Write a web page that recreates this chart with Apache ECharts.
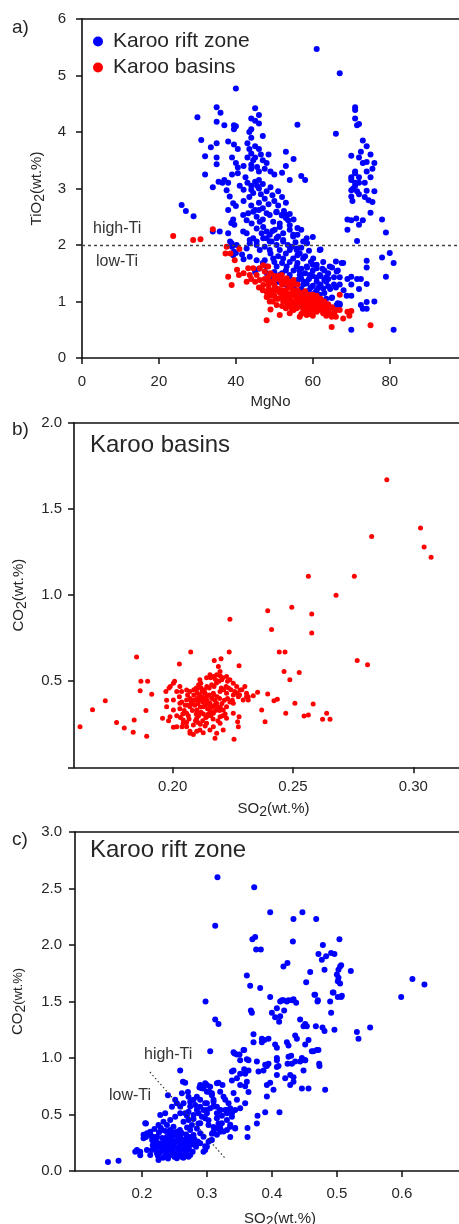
<!DOCTYPE html>
<html><head><meta charset="utf-8">
<script src="https://cdn.jsdelivr.net/npm/echarts@6/dist/echarts.min.js"></script>
<style>html,body{margin:0;padding:0;background:#fff}#c{width:459px;height:1224px}</style>
</head><body><div id="c"></div>
<script>
// ---------- tick labels ----------
const aXTicks = [0, 20, 40, 60, 80];
const aYTicks = [0, 1, 2, 3, 4, 5, 6];
const bXTicks = [0.20, 0.25, 0.30];
const bYTicks = [0, 0.5, 1.0, 1.5, 2.0];
const bYLabels = [0.5, 1.0, 1.5, 2.0];
const cXTicks = [0.2, 0.3, 0.4, 0.5, 0.6];
const cYTicks = [0, 0.5, 1.0, 1.5, 2.0, 2.5, 3.0];
const seriesNames = ['Karoo rift zone', 'Karoo basins'];
const tiThreshold = 2;              // high-Ti / low-Ti boundary in panel a
const tiDividerC = [[0.2123, 0.876], [0.329, 0.106]]; // divider in panel c

// ---------- panel a: MgNo vs TiO2 ----------
const riftA = [
[61,5.47],[67,5.04],[40,4.77],
[35,4.44],[36,4.34],[30,4.26],[35,4.18],[37,4.12],[39.5,4.12],[40,4.1],[39.5,4.05],[45,4.42],[46,4.3],[44,4.24],[45,4.2],[46,4.15],[43.5,4.0],[44,4.05],[44,3.9],[47,3.93],[56,4.13],[66,3.97],
[31,3.86],[33.5,3.73],[35,3.8],[38,3.83],[39.5,3.78],[40.5,3.7],[32,3.57],[35,3.55],[35,3.43],[39,3.55],[40,3.45],[40.5,3.37],[32,3.25],[34,3.02],[35.5,3.12],[37,3.15],[39,3.25],[40.5,3.27],
[43,3.8],[43.5,3.7],[44,3.62],[44.5,3.5],[44,3.42],[45,3.55],[46,3.7],[46.5,3.6],[47,3.5],[45.5,3.38],[46,3.3],[47.5,3.35],[48,3.45],[45,3.75],[43,3.55],[42,3.4],[44,3.35],[48.5,3.6],[49,3.3],
[53,3.65],[55,3.52],[53,3.4],[50,3.25],[52,3.28],[54,3.15],[57,3.22],[58,3.15],
[43,3.1],[44,3.05],[45,3.12],[46,3.0],[47,3.08],[48,2.95],[44.5,2.92],[46.5,2.9],[49,3.02],[42,2.98],[43.5,2.85],[47.5,2.82],[49.5,2.88],[50,2.78],[51,2.95],[52,2.85],[51,2.7],[53,2.75],[52.5,2.6],[54,2.55],[55,2.45],[54,2.35],[56,2.3],[53,2.48],[52,2.52],[50.5,2.58],
[45.5,3.05],[44,2.98],[46,3.15],[42.5,3.2],[41,3.05],[48.5,2.72],[46,2.75],[44,2.7],[45,2.62],[47,2.65],[42,2.78],
[25.9,2.71],[27,2.6],[29,2.51],[34,2.24],[36.5,3.1],[38,3.1],[37.6,2.97],[38.4,2.86],[39.3,2.74],[40,2.69],[38,2.62],[39.3,2.45],[38.8,2.39],[39.6,2.36],[35.8,2.24],[38,2.21],[38.5,2.06],[39,1.97],[39.5,1.88],[40,1.86],[41.6,1.83],[42,1.75],
[41.9,2.53],[43.2,2.56],[44.5,2.59],[42.8,2.44],[44.1,2.38],[45.4,2.5],[46.2,2.41],[48,2.56],[48.8,2.53],[50.6,2.59],[51.9,2.53],[49.7,2.41],[51.4,2.38],[53.2,2.53],[53.6,2.44],[45.4,2.29],[47.1,2.32],[48,2.24],[46.7,2.21],[48.8,2.18],[50.1,2.27],[51.4,2.32],[52.3,2.21],[54,2.27],[54.9,2.18],[48,2.12],[49.3,2.06],[44.5,2.12],[42.8,2.21],[41.9,2.24],[43.6,2.03],[45.4,2.0],[47.5,1.97],[50.6,2.0],[52.3,2.06],[54.5,1.97],[55.8,1.91],[56.6,1.85],
[38.9,2.03],[40.2,2.0],[39.3,1.82],[42.8,1.94],[43.6,2.09],[45.4,2.06],[47.1,2.12],[48.8,2.06],[50.6,2.12],[52.3,2.09],[54.9,2.15],[58.4,2.12],[61.8,1.91],[46.2,1.91],[48.8,1.91],[51.4,1.91],[54,1.91],[55.8,1.94],[43.6,1.79],[45.4,1.73],[47.5,1.73],[49.7,1.76],[52.3,1.76],[54.9,1.76],[57.5,1.76],[60.1,1.76],[62.7,1.7],[64.4,1.62],[66.2,1.53],[67.9,1.68],[48,1.62],[50.6,1.62],[53.2,1.62],[55.8,1.62],[58.4,1.62],[61,1.59],[51.4,1.47],[54,1.47],[56.6,1.47],[59.2,1.47],[61.8,1.47],[55.8,1.32],[58.4,1.32],[61,1.35],[63.5,1.35],[53.2,1.29],[62.7,1.23],[64.9,1.06],[66.2,0.94],[67,0.96],[68.8,1.1],[69.6,0.82],[60.1,1.09],[61.8,1.12],[62.7,1.0],
[49,1.85],[50,1.7],[51,1.8],[52,1.68],[53,1.85],[54,1.7],[55,1.55],[56,1.68],[57,1.58],[58,1.5],[59,1.4],[60,1.55],[57,1.4],[56,1.38],[55,1.25],[57,1.22],[59,1.2],[60,1.28],[58,1.1],[61,1.42],[62,1.3],[63,1.15],[64,1.4],[63,1.55],[60,1.65],[58,1.8],[56,1.82],[53,1.55],[52,1.5],[50,1.52],[48,1.5],[47,1.68],[46,1.58],[45,1.52],[49,1.4],[51,1.35],[54,1.4],[56.5,1.55],[59.5,1.7],[61.5,1.25],[62.5,1.58],[60.5,1.15],[57.5,1.3],[53.5,2.0],[55.5,2.05],[57,1.95],[59,1.9],[51,2.15],[49.5,2.25],[47,2.45],[46,2.62],
[58,1.35],[59.5,1.25],[61,1.2],[62,1.45],[63,1.38],[60,1.45],[57,1.48],[58.5,1.6],[61,1.65],[64.5,1.22],[65.5,1.3],[63.5,1.05],[66,1.25],[67,1.3],[68,1.2],
[71,4.44],[71,4.39],[71,4.24],[71.5,4.12],[72,4.14],[70,3.58],[72,3.55],[72.5,3.65],[73,3.45],[74,3.47],[74,3.3],[71,3.3],[71,3.27],[70,3.2],[70,3.15],[71,3.1],[72,3.2],[75,3.2],[70.5,3.0],[71.5,2.95],[70,2.97],[71,3.05],[72,3.1],[73.5,2.85],[74.5,2.79],[75.5,2.76],[70,2.86],[70.3,2.78],[74,2.96],[72,2.9],[75,2.57],[71.3,2.47],[69,2.45],[70,2.44],[73,2.44],[72,2.36],[69,2.27],[71.5,2.07],[78,2.45],[79,2.22],[80,1.86],[78,1.78],[81,1.68],[79,1.44],[81,0.5],[74,1.72],[74,1.6],[74,1.31],[74,0.99],[73,0.87],[74,0.87],[76,1.0],[72.5,0.94],[70,1.44],[69,1.4],[70,1.3],[70,1.1],[72.5,1.4],[71.5,1.4],[72,1.22],[70,0.5],[67.5,1.68],[66,1.71],[66.5,1.55],[65,1.6],[65.5,1.43],[67,1.43],[64,1.5],[63.5,1.43],[64,1.27],[65,1.07],[66.5,0.97],[67,0.94],[62,1.92],[60,2.14],[57.5,2.06],[58.5,2.03],[57,2.27],[56,2.18],
[73,3.85],[74,3.75],[75,3.6],[76,3.45],[75.5,3.35],[73.5,3.1],[76,2.95]
];
const basinsA = [
[23.7,2.16],[28.9,2.09],[30.8,2.1],[34,2.28],[37.6,1.97],[37.3,1.85],[38.6,1.85],[40.9,1.93],[39.7,1.73],[38,1.44],[38.9,1.29],[40.3,1.56],[40.8,1.47],[43.2,1.59],[43.6,1.47],[42.8,1.35],[44.5,1.59],[46.2,1.59],[47.1,1.64],[48.4,1.62],[47.5,1.53],[45.4,1.47],[46.2,1.38],[47.1,1.29],[48.4,1.44],[49.3,1.35],[50.1,1.26],[50.6,1.41],[51.9,1.47],[53.2,1.41],[54,1.35],
[48,1.17],[49.7,1.12],[51.4,1.17],[53.2,1.12],[54.9,1.17],[55.8,1.06],[57.5,1.08],[59.2,1.03],[61,1.0],[62.7,0.94],[64.4,0.88],[48.8,1.0],[50.6,0.94],[52.3,1.0],[54,0.94],[55.8,0.88],[57.5,0.91],[59.2,0.85],[61,0.82],[62.7,0.79],[64.9,0.73],[65.7,0.82],[67,0.85],[67.9,0.7],[51.4,0.76],[54,0.79],[56.6,0.73],[58.4,0.76],[48,0.67],[64.9,0.55],[67,1.12],[69,0.82],[70,0.83],[69.5,0.75],[75,0.58],[49,0.86],[63.5,0.75],[66,0.73],
[50,1.3],[51,1.22],[52,1.3],[53,1.2],[54,1.25],[55,1.3],[56,1.2],[57,1.15],[58,1.05],[59,1.12],[60,1.05],[61,0.95],[62,0.9],[63,0.85],[60,0.92],[58,0.95],[57,1.0],[56,1.02],[55,1.1],[54,1.05],[53,1.0],[52,1.08],[51,1.05],[50,1.1],[49,1.2],[48.5,1.3],[47.5,1.4],[49,1.5],[50,1.45],[51.5,1.38],[52.5,1.18],[53.5,1.08],[54.5,1.15],[55.5,0.98],[56.5,0.95],[57.5,0.85],[58.5,0.88],[59.5,0.95],[60.5,0.88],[61.5,0.85],[62.5,0.85],[63.5,0.9],[64,0.82],[65,0.78],[66,0.85],[59,0.78],[60,0.75],[55,0.85],[53,0.88],[52,0.92],[50.5,1.05],[49.5,1.0],[48,1.08],[46,1.25],[45,1.35],[44,1.4],[42,1.5],[47,1.2],[56,1.12],[58,1.18],[60,1.12],[61,1.1],[62,1.05],[57,0.78],[54.5,0.88],[53.5,1.3],[55,1.38],[56,1.3],
[51.5,1.15],[52.5,1.05],[53.5,0.95],[54.5,1.0],[55.5,1.18],[56.5,1.08],[57.5,0.98],[58.5,1.0],[59.5,1.05],[60.5,1.0],[61.5,0.92],[62.5,0.95],[63.5,0.8],[60,0.85],[58,0.82],[56,0.9],[54,1.12],[52,1.2],[50,1.18],[49,1.1],[48.5,1.22],[51,1.45],[52,1.38],[53,1.32],[54,1.28],[55,1.2],[56,1.15],[57,1.08],[58,1.12],[59,0.98],[61,1.05],[62,0.98],[63,1.0],[64,0.95],[65,0.9],[57,0.92],[55,0.95],[53,1.15],[50,1.38],[48,1.38]
];

// ---------- panel b: Karoo basins SO2 vs CO2 ----------
const basinsB = [
[0.289,1.67],[0.303,1.39],[0.3045,1.28],[0.3074,1.22],[0.2827,1.34],[0.2564,1.11],[0.2755,1.11],[0.2679,1.0],[0.2395,0.91],[0.2495,0.93],[0.2578,0.89],[0.2238,0.86],[0.2411,0.80],[0.2578,0.78],[0.2443,0.67],[0.2467,0.67],[0.2075,0.67],[0.2235,0.67],[0.185,0.64],[0.2767,0.62],[0.281,0.595],[0.2173,0.62],[0.2201,0.63],[0.2028,0.60],[0.2276,0.59],[0.2463,0.556],[0.2526,0.55],[0.2487,0.508],[0.1868,0.50],[0.1896,0.50],[0.1865,0.445],[0.1913,0.424],[0.172,0.387],[0.1667,0.335],[0.1615,0.236],[0.1767,0.26],[0.1799,0.228],[0.184,0.275],[0.1836,0.203],[0.1892,0.18],[0.1889,0.33],[0.1958,0.285],[0.1983,0.27],[0.2003,0.233],[0.2039,0.236],[0.2176,0.169],[0.2255,0.163],[0.2353,0.436],[0.2395,0.426],[0.237,0.333],[0.2384,0.265],[0.2421,0.387],[0.2435,0.395],[0.2508,0.372],[0.247,0.314],[0.2546,0.298],[0.2564,0.304],[0.2584,0.368],[0.2623,0.279],[0.2654,0.279],[0.264,0.314],[0.2276,0.294],[0.227,0.265],[0.2273,0.236],[0.2314,0.41],[0.2293,0.391],[0.2307,0.43],[0.2335,0.415],
[0.1972,0.44],[0.1975,0.39],[0.1985,0.46],[0.199,0.47],[0.2003,0.488],[0.2008,0.5],[0.203,0.469],[0.2017,0.44],[0.2037,0.44],[0.2058,0.449],[0.2072,0.44],[0.21,0.455],[0.2113,0.508],[0.2117,0.488],[0.2141,0.52],[0.2155,0.537],[0.2169,0.527],[0.2183,0.537],[0.2197,0.556],[0.219,0.585],[0.2204,0.508],[0.2224,0.527],[0.2238,0.508],[0.2252,0.488],[0.2266,0.469],[0.228,0.449],[0.23,0.469],[0.2307,0.41],[0.2314,0.391],[0.2273,0.41],[0.2252,0.42],
[0.2003,0.391],[0.203,0.372],[0.2058,0.391],[0.2086,0.391],[0.2113,0.40],[0.2141,0.41],[0.2169,0.43],[0.2197,0.44],[0.2224,0.43],[0.1975,0.352],[0.2003,0.333],[0.203,0.34],[0.2058,0.314],[0.2072,0.352],[0.21,0.333],[0.2127,0.352],[0.2155,0.372],[0.2183,0.372],[0.221,0.333],[0.2224,0.352],[0.2252,0.372],
[0.1989,0.294],[0.2017,0.30],[0.2044,0.275],[0.2065,0.30],[0.21,0.285],[0.2113,0.314],[0.2141,0.294],[0.2169,0.314],[0.2197,0.294],[0.2224,0.285],[0.2252,0.314],[0.2017,0.236],[0.2044,0.256],[0.2058,0.236],[0.2086,0.245],[0.2113,0.217],[0.2141,0.256],[0.2169,0.236],[0.2197,0.256],[0.221,0.217],[0.2072,0.198],[0.2086,0.19],[0.21,0.21],[0.2127,0.20],[0.2155,0.217],[0.2183,0.198],[0.2072,0.21],
[0.2065,0.36],[0.2078,0.38],[0.2092,0.36],[0.2105,0.37],[0.2115,0.35],[0.2125,0.38],[0.2135,0.36],[0.2145,0.34],[0.2155,0.33],[0.2165,0.35],[0.2175,0.39],[0.2185,0.41],[0.2195,0.40],[0.2205,0.37],[0.2215,0.39],[0.2082,0.33],[0.2098,0.31],[0.2108,0.30],[0.2118,0.32],[0.2128,0.31],[0.2138,0.29],[0.2148,0.31],[0.2158,0.30],[0.2168,0.28],[0.2178,0.33],[0.2088,0.42],[0.2102,0.43],[0.2112,0.42],[0.2122,0.44],[0.2132,0.45],[0.2142,0.47],[0.2152,0.46],[0.2162,0.48],[0.2172,0.47],[0.2182,0.49],[0.2192,0.50],[0.2202,0.46],[0.2212,0.45],[0.2222,0.47],[0.2232,0.46],[0.2242,0.45],[0.2095,0.27],[0.2105,0.26],[0.2115,0.25],[0.2125,0.27],[0.2135,0.24],[0.2068,0.28],[0.2058,0.26],[0.2048,0.33],[0.2038,0.38],[0.2028,0.41],[0.2188,0.27],[0.2198,0.35],[0.2208,0.30],[0.2218,0.31],[0.2228,0.40],[0.2238,0.38],[0.2248,0.39],[0.2258,0.44],[0.2268,0.43],[0.2278,0.42],[0.2288,0.45],[0.2172,0.42],[0.2162,0.40],[0.2152,0.42],[0.2142,0.39],[0.2132,0.40],[0.2122,0.41],[0.2112,0.39],[0.2102,0.40],[0.2092,0.39],[0.2082,0.37],[0.2072,0.40],[0.2062,0.42],[0.2052,0.36],[0.2042,0.31],[0.2032,0.29],[0.2135,0.43],[0.2145,0.37],[0.2155,0.36],[0.2165,0.32],[0.2175,0.36],[0.2185,0.35],[0.2195,0.33],[0.2158,0.52],[0.2178,0.51],[0.2198,0.53],[0.2208,0.52],[0.2228,0.5],[0.2108,0.48],[0.2118,0.46],[0.2098,0.46],[0.2088,0.45]
];

// ---------- panel c: Karoo rift zone SO2 vs CO2 ----------
const riftC = [
[0.3163,2.60],[0.3728,2.51],[0.3128,2.17],[0.3974,2.29],[0.447,2.29],[0.4332,2.23],[0.4682,2.23],[0.370,2.05],[0.3743,2.07],[0.4323,2.03],[0.504,2.05],[0.3758,1.96],[0.383,1.96],[0.4785,2.0],[0.4717,1.92],[0.4912,1.93],[0.4963,1.92],[0.4769,1.87],[0.4835,1.9],[0.4178,1.81],[0.424,1.84],[0.481,1.78],[0.505,1.81],[0.5025,1.78],[0.5066,1.82],[0.5215,1.77],[0.459,1.76],[0.3615,1.73],[0.5,1.74],[0.5025,1.71],[0.4528,1.67],[0.5015,1.68],[0.505,1.66],[0.3666,1.64],[0.382,1.62],[0.6163,1.70],[0.6348,1.65],[0.599,1.54],[0.4655,1.56],[0.4938,1.58],[0.5015,1.54],[0.5066,1.54],[0.3974,1.54],[0.4702,1.50],[0.4897,1.50],[0.2979,1.50],[0.4178,1.51],[0.4128,1.50],[0.423,1.50],[0.4308,1.51],[0.4374,1.49],[0.4077,1.44],[0.4189,1.42],[0.4,1.40],[0.405,1.36],[0.3677,1.42],[0.3692,1.40],[0.4912,1.40],[0.3128,1.34],[0.4435,1.34],[0.4128,1.37],
[0.4154,1.51],[0.4256,1.51],[0.4333,1.52],[0.4112,1.32],[0.3179,1.30],[0.4666,1.56],[0.4708,1.51],[0.4948,1.58],[0.5077,1.55],
[0.4513,1.30],[0.4538,1.28],[0.4487,1.28],[0.4677,1.28],[0.4779,1.27],[0.481,1.24],[0.4963,1.25],[0.5308,1.23],[0.5333,1.17],[0.5512,1.27],
[0.3717,1.21],[0.3846,1.17],[0.3886,1.16],[0.3948,1.17],[0.3717,1.14],[0.3846,1.14],[0.405,1.12],[0.4077,1.09],[0.4231,1.14],[0.4256,1.11],[0.4359,1.20],[0.4385,1.17],[0.4513,1.12],[0.4564,1.16],[0.4615,1.06],[0.4692,1.07],[0.4462,1.0],[0.4513,0.98],[0.4359,0.97],[0.4308,0.95],[0.4256,1.01],[0.4077,1.0],[0.3948,0.95],[0.3923,0.93],[0.3769,0.97],[0.4102,0.93],[0.4297,1.02],[0.4733,0.93],[0.3574,1.07],[0.341,1.05],[0.3462,1.03],[0.3051,1.06],[0.3512,0.98],[0.3615,0.99],
[0.1477,0.08],[0.164,0.09],[0.1897,0.17],[0.1974,0.14],[0.2062,0.42],[0.2025,0.32],[0.2062,0.30],[0.2589,0.89],[0.2631,0.79],[0.2666,0.78],[0.24,0.67],[0.2708,0.70],
[0.2794,0.63],[0.2886,0.74],[0.2948,0.73],[0.3,0.76],[0.304,0.70],[0.3077,0.67],[0.3102,0.63],[0.3179,0.78],[0.324,0.76],[0.3282,0.63],[0.3333,0.60],[0.341,0.69],[0.3385,0.80],[0.3462,0.82],[0.3512,0.76],[0.3589,0.75],[0.3615,0.79],[0.364,0.70],[0.3425,1.04],[0.3502,1.03],[0.3563,1.07],[0.364,0.98],[0.3574,0.90],[0.364,0.89],[0.3589,0.86],[0.3512,0.86],[0.341,0.89],[0.3385,0.88],[0.3794,0.88],[0.3871,0.89],[0.3923,0.76],[0.3974,0.78],[0.3897,0.94],[0.3923,0.66],[0.4025,0.72],[0.4077,0.85],[0.4077,0.92],[0.4077,0.98],[0.4205,0.82],[0.4241,0.95],[0.4282,0.85],[0.4333,0.83],[0.4282,0.76],[0.4333,0.79],[0.4462,0.73],[0.4564,0.73],[0.4435,0.97],[0.4513,0.98],[0.4487,0.89],[0.464,1.06],[0.4717,1.07],[0.482,0.72],[0.4728,0.95],[0.4117,0.52],[0.3897,0.52],[0.3779,0.49],[0.3769,0.42],
[0.3625,0.38],[0.3625,0.30],[0.3435,0.38],[0.3359,0.30],[0.3256,0.35],[0.3359,0.41],[0.3205,0.38],[0.3154,0.32],[0.3077,0.33],[0.3051,0.27],[0.2974,0.22],[0.2948,0.17],[0.3102,0.39],[0.3179,0.42],[0.3231,0.49],[0.3308,0.51],[0.3385,0.48],[0.3435,0.54],[0.3512,0.555],[0.3589,0.60],[0.3462,0.63],[0.3359,0.555],[0.3282,0.54],[0.3205,0.54],
[0.2897,0.63],[0.3,0.54],[0.2846,0.54],[0.2923,0.48],[0.2974,0.6],[0.2743,0.57],[0.2692,0.49],[0.2794,0.46],[0.2871,0.42],[0.3025,0.45],[0.3102,0.57],[0.3154,0.51],[0.2589,0.57],[0.2512,0.63],
[0.2051,0.422],[0.2077,0.333],[0.2025,0.289],[0.2128,0.348],[0.2178,0.259],[0.2231,0.304],[0.2154,0.186],[0.2128,0.142],[0.2231,0.156],[0.2282,0.215],[0.2332,0.259],[0.2385,0.304],[0.2308,0.363],[0.2255,0.407],[0.2385,0.407],[0.2435,0.363],[0.2486,0.392],[0.2538,0.348],[0.2589,0.304],[0.264,0.274],[0.2692,0.304],[0.2743,0.363],[0.2794,0.319],[0.282,0.259],[0.2692,0.215],[0.2589,0.186],[0.2486,0.156],[0.2385,0.127],[0.2538,0.112],[0.2615,0.127],[0.2435,0.23],[0.2512,0.259],[0.2358,0.186],[0.264,0.436],[0.2717,0.451],[0.2769,0.407],[0.2846,0.377],[0.2897,0.333],[0.2948,0.304],[0.2897,0.422],[0.2974,0.466],[0.3,0.51],[0.2948,0.54],[0.2871,0.51],[0.2794,0.496],[0.2717,0.525],[0.2666,0.51],[0.2589,0.51],[0.2512,0.481],[0.2435,0.451],[0.2358,0.51],[0.2282,0.496],[0.264,0.599],[0.2743,0.613],[0.282,0.584],[0.2897,0.569],[0.3,0.599],[0.3051,0.555],[0.3102,0.613],[0.3077,0.688],[0.3,0.702],[0.2923,0.732],[0.2846,0.658],[0.2717,0.658],[0.2615,0.688],[0.2538,0.599],[0.2462,0.569],[0.2897,0.761],[0.2974,0.776],[0.3051,0.746],[0.3154,0.776],[0.3205,0.702],[0.3256,0.658],[0.3154,0.569],[0.3205,0.54],[0.3308,0.54],[0.3385,0.51],[0.3308,0.451],[0.323,0.422],[0.3154,0.377],[0.3102,0.348],[0.3205,0.348],[0.3308,0.363],[0.3359,0.392],[0.3435,0.377],[0.3154,0.466],[0.3025,0.407],[0.3077,0.274],[0.3,0.215],[0.2974,0.186],[0.3025,0.259],[0.2897,0.245],[0.2717,0.127],[0.2255,0.097],[0.1974,0.171],[0.1923,0.186],[0.2077,0.186],[0.2332,0.436],
[0.2142,0.312],[0.2167,0.228],[0.2193,0.371],[0.2208,0.197],[0.2219,0.266],[0.2246,0.134],[0.2262,0.341],[0.2271,0.243],[0.2295,0.178],[0.2311,0.291],[0.2323,0.117],[0.2349,0.226],[0.2364,0.353],[0.2376,0.162],[0.2398,0.268],[0.2411,0.207],[0.2423,0.329],[0.2447,0.141],[0.2456,0.296],[0.2472,0.188],[0.2494,0.252],[0.2503,0.124],[0.2521,0.318],[0.2537,0.205],[0.2549,0.161],[0.2563,0.279],[0.2577,0.231],[0.2598,0.143],[0.2612,0.337],[0.2626,0.196],[0.2651,0.248],[0.2668,0.158],[0.2679,0.322],[0.2703,0.266],[0.2724,0.194],[0.2738,0.301],[0.2757,0.233],[0.2781,0.171],[0.2806,0.284],[0.2833,0.215],[0.2182,0.301],[0.2288,0.382],[0.2345,0.282],[0.2402,0.111],[0.2468,0.344],[0.2532,0.271],[0.2585,0.362],[0.2638,0.118],[0.2695,0.386],[0.2744,0.141],[0.2201,0.238],[0.2239,0.217],[0.2327,0.196],[0.2384,0.244],[0.2441,0.185],[0.2519,0.147],[0.2571,0.192],[0.2617,0.263],[0.2664,0.208],[0.2712,0.236],[0.2157,0.274],[0.2276,0.164],[0.2359,0.137],[0.2431,0.279],[0.2488,0.218],[0.2557,0.313],[0.2606,0.226],[0.2681,0.176],[0.2769,0.259],[0.2859,0.261]
];

// ---------- chart ----------
const FONT = 'Liberation Sans, Arial, Helvetica, sans-serif';
const TXT = '#262626';
const BLUE = '#0000ff', RED = '#ff0000';

function bottomAxis(g, min, max, ticks, labels, fmt, margin, name, nameGap, namePad) {
  return {
    type: 'value', gridIndex: g, min: min, max: max, position: 'bottom',
    splitLine: { show: false },
    axisLine: { show: true, onZero: false, lineStyle: { color: '#111', width: 1.6 } },
    axisTick: { show: true, inside: false, length: 6, customValues: ticks, lineStyle: { color: '#111', width: 1.5 } },
    axisLabel: { show: true, customValues: labels, formatter: fmt, margin: margin, color: TXT, fontSize: 15, fontFamily: FONT },
    name: name, nameLocation: 'middle', nameGap: nameGap,
    nameTextStyle: { color: TXT, fontSize: 15, fontFamily: FONT, padding: namePad || 0,
      rich: { s: { fontSize: 14, fontFamily: FONT, color: TXT, padding: [6, 0, 0, 0] } } }
  };
}
function topAxis(g, min, max) {
  return {
    type: 'value', gridIndex: g, min: min, max: max, position: 'top',
    splitLine: { show: false },
    axisLine: { show: true, onZero: false, lineStyle: { color: '#111', width: 1.6 } },
    axisTick: { show: false }, axisLabel: { show: false }
  };
}
function leftAxis(g, min, max, ticks, labels, fmt, margin, name, nameGap) {
  return {
    type: 'value', gridIndex: g, min: min, max: max, position: 'left',
    splitLine: { show: false },
    axisLine: { show: true, onZero: false, lineStyle: { color: '#111', width: 1.6 } },
    axisTick: { show: true, inside: false, length: 6, customValues: ticks, lineStyle: { color: '#111', width: 1.5 } },
    axisLabel: { show: true, customValues: labels, formatter: fmt, margin: margin, color: TXT, fontSize: 15, fontFamily: FONT },
    name: name, nameLocation: 'middle', nameGap: nameGap, nameRotate: 90,
    nameTextStyle: { color: TXT, fontSize: 15, fontFamily: FONT,
      rich: { s: { fontSize: 14, fontFamily: FONT, color: TXT, padding: [6, 0, 0, 0] },
              u: { fontSize: 13, fontFamily: FONT, color: TXT } } }
  };
}
const f0 = v => String(Math.round(v));
const f1 = v => v.toFixed(1);
const f2 = v => v.toFixed(2);

const option = {
  animation: false,
  backgroundColor: '#fff',
  textStyle: { fontFamily: FONT },
  grid: [
    { left: 82, top: 19, width: 377, height: 339, outerBoundsMode: 'none', containLabel: false },
    { left: 74, top: 423, width: 385, height: 344.3, outerBoundsMode: 'none', containLabel: false },
    { left: 75, top: 832, width: 384, height: 339, outerBoundsMode: 'none', containLabel: false }
  ],
  xAxis: [
    bottomAxis(0, 0, 98, aXTicks, aXTicks, f0, 16, 'MgNo', 36),
    bottomAxis(1, 0.159, 0.319, bXTicks, bXTicks, f2, 12, 'SO{s|2}(wt.%)', 32, [0, 0, 0, 14]),
    bottomAxis(2, 0.097, 0.688, cXTicks, cXTicks, f1, 15, 'SO{s|2}(wt.%)', 38, [0, 0, 0, 26]),
    topAxis(0, 0, 98), topAxis(1, 0.159, 0.319), topAxis(2, 0.097, 0.688)
  ],
  yAxis: [
    leftAxis(0, 0, 6, aYTicks, aYTicks, f0, 16, 'TiO{s|2}(wt.%)', 30),
    leftAxis(1, 0, 2, bYTicks, bYLabels, f1, 12, 'CO{s|2}(wt.%)', 45),
    leftAxis(2, 0, 3, cYTicks, cYTicks, f1, 13, 'CO{s|2}{u|(wt.%)}', 47)
  ],
  legend: {
    show: true, orient: 'vertical', left: 88, top: 26, itemGap: 5,
    itemWidth: 20, itemHeight: 10, icon: 'circle',
    data: seriesNames,
    textStyle: { color: TXT, fontSize: 21, fontFamily: FONT },
    selectedMode: false
  },
  series: [
    { name: seriesNames[0], type: 'scatter', xAxisIndex: 0, yAxisIndex: 0, data: riftA,
      symbolSize: 6, itemStyle: { color: BLUE, opacity: 1 }, silent: true,
      markLine: { silent: true, symbol: ['none', 'none'], label: { show: false },
        lineStyle: { color: '#444', width: 1.3, type: [3, 3] },
        data: [{ yAxis: tiThreshold }] } },
    { name: seriesNames[1], type: 'scatter', xAxisIndex: 0, yAxisIndex: 0, data: basinsA,
      symbolSize: 6, itemStyle: { color: RED, opacity: 1 }, silent: true },
    { name: 'basins-b', type: 'scatter', xAxisIndex: 1, yAxisIndex: 1, data: basinsB,
      symbolSize: 5, itemStyle: { color: RED, opacity: 1 }, silent: true },
    { name: 'rift-c', type: 'scatter', xAxisIndex: 2, yAxisIndex: 2, data: riftC,
      symbolSize: 6, itemStyle: { color: BLUE, opacity: 1 }, silent: true,
      markLine: { silent: true, symbol: ['none', 'none'], label: { show: false },
        lineStyle: { color: '#333', width: 1.2, type: [1.5, 2.5] },
        data: [[{ coord: tiDividerC[0] }, { coord: tiDividerC[1] }]] } }
  ],
  graphic: [
    { type: 'text', left: 12, top: 18, style: { text: 'a)', font: '19px ' + FONT, fill: TXT } },
    { type: 'text', left: 12, top: 420, style: { text: 'b)', font: '19px ' + FONT, fill: TXT } },
    { type: 'text', left: 12, top: 830, style: { text: 'c)', font: '19px ' + FONT, fill: TXT } },
    { type: 'text', left: 90, top: 433, style: { text: 'Karoo basins', font: '24px ' + FONT, fill: TXT } },
    { type: 'text', left: 90, top: 838, style: { text: 'Karoo rift zone', font: '24px ' + FONT, fill: TXT } },
    { type: 'text', left: 93, top: 221, style: { text: 'high-Ti', font: '16px ' + FONT, fill: '#333' } },
    { type: 'text', left: 96, top: 254, style: { text: 'low-Ti', font: '16px ' + FONT, fill: '#333' } },
    { type: 'text', left: 144, top: 1047, style: { text: 'high-Ti', font: '16px ' + FONT, fill: '#333' } },
    { type: 'text', left: 109, top: 1088, style: { text: 'low-Ti', font: '16px ' + FONT, fill: '#333' } }
  ]
};
const chart = echarts.init(document.getElementById('c'), null, { renderer: 'canvas' });
chart.setOption(option);
</script></body></html>
